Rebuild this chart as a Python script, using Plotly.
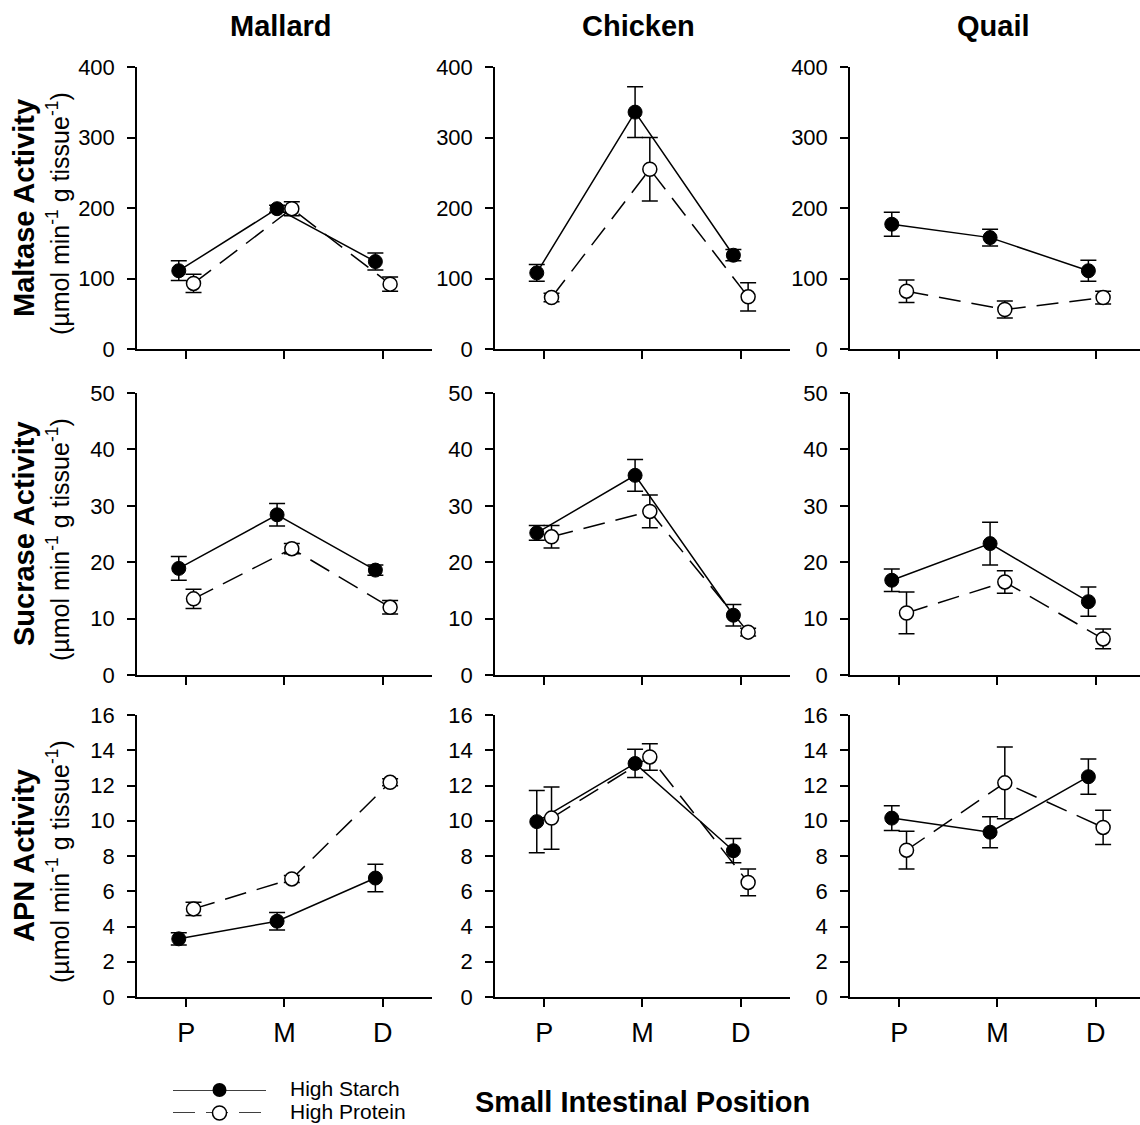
import plotly.graph_objects as go

# ---------------- data ----------------
positions = ["P", "M", "D"]
species = ["Mallard", "Chicken", "Quail"]
enzymes = ["Maltase Activity", "Sucrase Activity", "APN Activity"]
y_ranges = [[0, 400], [0, 50], [0, 16]]
y_dticks = [100, 10, 2]

# rows: enzyme, columns: species
starch_mean = [
    [111, 199, 124],   [108, 336, 133],   [177, 158, 111],
    [18.9, 28.4, 18.6], [25.2, 35.4, 10.6], [16.8, 23.3, 13.0],
    [3.3, 4.3, 6.75],  [9.95, 13.25, 8.3], [10.15, 9.35, 12.5],
]
starch_err = [
    [14, 5, 12],  [12, 36, 8],   [17, 12, 15],
    [2.1, 2.0, 0.9], [1.3, 2.8, 1.9], [2.0, 3.8, 2.6],
    [0.35, 0.5, 0.78], [1.76, 0.8, 0.69], [0.7, 0.88, 1.0],
]
protein_mean = [
    [93, 199, 92],   [73, 255, 74],   [82, 56, 73],
    [13.5, 22.4, 12.0], [24.5, 29.0, 7.6], [11.0, 16.5, 6.4],
    [5.0, 6.7, 12.18], [10.15, 13.62, 6.5], [8.33, 12.15, 9.62],
]
protein_err = [
    [13, 10, 10], [6, 45, 20], [16, 12, 9],
    [1.7, 0.9, 1.2], [2.0, 2.9, 0.7], [3.7, 2.0, 1.75],
    [0.38, 0.2, 0.2], [1.77, 0.75, 0.76], [1.07, 2.03, 0.97],
]
legend_names = ["High Starch", "High Protein"]

# ---------------- layout geometry (pixels) ----------------
W, H = 1140, 1125
col_px = [(137, 432), (495, 790), (850, 1140)]
row_px = [(67, 349), (393, 675), (715, 997)]
tick_spacing = 98.3
offset = 0.075
FONT = "Liberation Sans, Arial, sans-serif"

fig = go.Figure()

axis_common = dict(showline=True, linecolor="black", linewidth=1.5, ticks="outside",
                   ticklen=8, tickwidth=1.5, tickcolor="black", showgrid=False,
                   zeroline=False, fixedrange=True, automargin=False)

xs = [i + 1 for i in range(len(positions))]

for r in range(3):
    for c in range(3):
        idx = r * 3 + c + 1
        xa = "x" if idx == 1 else f"x{idx}"
        ya = "y" if idx == 1 else f"y{idx}"
        k = r * 3 + c
        x0, x1 = col_px[c]
        xr = [0.5, 0.5 + (x1 - x0) / tick_spacing]
        fig.add_trace(go.Scatter(
            x=[v - offset for v in xs], y=starch_mean[k], xaxis=xa, yaxis=ya,
            mode="lines+markers", showlegend=False, cliponaxis=False,
            line=dict(color="black", width=1.5),
            marker=dict(symbol="circle", size=14, color="black", line=dict(color="black", width=1)),
            error_y=dict(type="data", array=starch_err[k], color="black", thickness=1.5, width=8),
        ))
        fig.add_trace(go.Scatter(
            x=[v + offset for v in xs], y=protein_mean[k], xaxis=xa, yaxis=ya,
            mode="lines+markers", showlegend=False, cliponaxis=False,
            line=dict(color="black", width=1.5, dash="22px,11px"),
            marker=dict(symbol="circle", size=14, color="white", line=dict(color="black", width=1.5)),
            error_y=dict(type="data", array=protein_err[k], color="black", thickness=1.5, width=8),
        ))
        xkey = "xaxis" if idx == 1 else f"xaxis{idx}"
        ykey = "yaxis" if idx == 1 else f"yaxis{idx}"
        y0, y1 = row_px[r]
        fig.layout[xkey] = dict(axis_common, domain=[x0 / W, x1 / W], range=xr,
                                anchor=ya, tickmode="array", tickvals=xs,
                                ticktext=positions, showticklabels=(r == 2),
                                tickfont=dict(family=FONT, size=27, color="black"),
                                ticklabelstandoff=3)
        fig.layout[ykey] = dict(axis_common, domain=[1 - y1 / H, 1 - y0 / H],
                                range=y_ranges[r], dtick=y_dticks[r], anchor=xa,
                                tickfont=dict(family=FONT, size=22, color="black"),
                                ticklabelstandoff=8)

# ---------------- legend drawn on its own hidden axes ----------------
fig.add_trace(go.Scatter(x=[0, 1], y=[1, 1], xaxis="x10", yaxis="y10", mode="lines",
                         showlegend=False, cliponaxis=False,
                         line=dict(color="black", width=1.5)))
fig.add_trace(go.Scatter(x=[0.5], y=[1], xaxis="x10", yaxis="y10", mode="markers",
                         showlegend=False, cliponaxis=False,
                         marker=dict(size=14, color="black")))
fig.add_trace(go.Scatter(x=[0, 1], y=[0, 0], xaxis="x10", yaxis="y10", mode="lines",
                         showlegend=False, cliponaxis=False,
                         line=dict(color="black", width=1.5, dash="22px,11px")))
fig.add_trace(go.Scatter(x=[0.5], y=[0], xaxis="x10", yaxis="y10", mode="markers",
                         showlegend=False, cliponaxis=False,
                         marker=dict(size=14, color="white", line=dict(color="black", width=1.5))))
fig.layout["xaxis10"] = dict(domain=[173 / W, 266 / W], range=[0, 1], visible=False,
                             anchor="y10", fixedrange=True, automargin=False)
fig.layout["yaxis10"] = dict(domain=[1 - 1113 / H, 1 - 1090 / H], range=[0, 1], visible=False,
                             anchor="x10", fixedrange=True, automargin=False)

annotations = []
for i, name in enumerate(legend_names):
    annotations.append(dict(text=name, xref="paper", yref="paper", x=288 / W,
                            y=1 - (1088 + i * 23) / H, xanchor="left", yanchor="middle",
                            showarrow=False, font=dict(family=FONT, size=21, color="black")))

# column titles
for c, name in enumerate(species):
    cx = (col_px[c][0] + col_px[c][0] + 295) / 2 - 4
    annotations.append(dict(text=f"<b>{name}</b>", xref="paper", yref="paper",
                            x=cx / W, y=1 - 26 / H, xanchor="center", yanchor="middle",
                            showarrow=False, font=dict(family=FONT, size=29, color="black")))

# y-axis titles
for r, name in enumerate(enzymes):
    cy = (row_px[r][0] + row_px[r][1]) / 2
    annotations.append(dict(text=f"<b>{name}</b>", xref="paper", yref="paper",
                            x=24 / W, y=1 - cy / H, xanchor="center", yanchor="middle",
                            textangle=-90, showarrow=False,
                            font=dict(family=FONT, size=29, color="black")))
    annotations.append(dict(text="(µmol min<sup>-1</sup> g tissue<sup>-1</sup>)",
                            xref="paper", yref="paper",
                            x=58 / W, y=1 - (cy + 6) / H, xanchor="center", yanchor="middle",
                            textangle=-90, showarrow=False,
                            font=dict(family=FONT, size=25, color="black")))

# x-axis title
annotations.append(dict(text="<b>Small Intestinal Position</b>", xref="paper", yref="paper",
                        x=642 / W, y=1 - 1102 / H, xanchor="center", yanchor="middle",
                        showarrow=False, font=dict(family=FONT, size=29, color="black")))

fig.update_layout(template="none", width=W, height=H, autosize=False,
                  margin=dict(l=0, r=0, t=0, b=0, pad=0, autoexpand=False),
                  paper_bgcolor="white", plot_bgcolor="white",
                  annotations=annotations, showlegend=False,
                  font=dict(family=FONT, color="black"))

fig.write_html("out.html", config={"displayModeBar": False, "responsive": False},
               post_script="document.body.style.margin='0';document.body.style.overflow='hidden';")
